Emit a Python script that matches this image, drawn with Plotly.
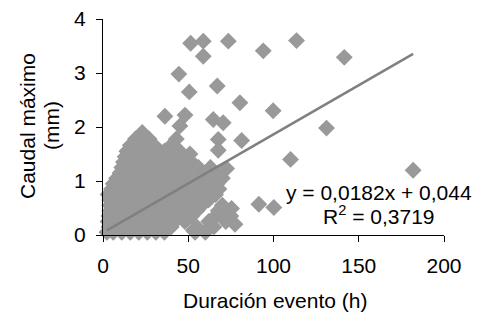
import plotly.graph_objects as go

# Data (Duración evento [h] vs Caudal máximo [mm])
duracion_h = [
    # outliers
    51.4, 58.8, 58.8, 73.5, 94.0, 113.5, 141.5, 44.5, 50.6, 67.0, 80.3, 99.8,
    36.3, 48.1, 45.1, 64.7, 70.5, 131.1, 67.6, 67.6, 81.3, 110.0, 181.9, 72.5,
    91.4, 100.2, 75.4, 77.4, 67.6, 60.8, 53.0, 51.0,
    # dense cluster
    23,
    19, 27, 43,
    16, 20, 25, 30, 40,
    14, 18, 23, 28, 33, 36, 45,
    13, 17, 22, 27, 32, 37, 42, 48,
    12, 16, 21, 26, 31, 36, 41, 46, 52,
    11, 15, 20, 25, 30, 35, 40, 45, 50, 56, 63,
    10, 14, 19, 24, 29, 34, 39, 44, 49, 54, 60, 68,
    8, 13, 18, 23, 28, 33, 38, 43, 48, 53, 58, 63, 70,
    6, 11, 16, 21, 26, 31, 36, 41, 46, 51, 56, 61, 67,
    5, 10, 15, 20, 25, 30, 35, 40, 45, 50, 55, 60, 68,
    3, 8, 13, 18, 23, 28, 33, 38, 43, 48, 53, 59, 66,
    4, 9, 14, 19, 24, 29, 34, 39, 44, 49, 54, 62,
    4, 9, 14, 19, 24, 29, 34, 39, 44, 49, 54, 58, 70,
    4, 8, 13, 18, 23, 28, 33, 38, 43, 48, 55, 72,
    3.5, 8, 13, 18, 23, 28, 33, 38, 43, 48, 52, 66, 75,
    3, 7, 12, 17, 22, 27, 32, 37, 42, 48, 62, 72,
    3.5, 8, 13, 18, 23, 28, 33, 40, 55, 65,
    2.3, 6, 11, 16, 21, 26, 31, 36, 54, 60,
]
caudal_mm = [
    3.55, 3.59, 3.31, 3.59, 3.41, 3.60, 3.29, 2.98, 2.65, 2.76, 2.45, 2.30,
    2.20, 2.22, 2.02, 2.14, 2.08, 1.98, 1.77, 1.57, 1.75, 1.40, 1.20, 1.23,
    0.57, 0.51, 0.49, 0.20, 0.45, 0.09, 0.09, 1.50,
    1.90,
    1.78, 1.78, 1.78,
    1.66, 1.66, 1.66, 1.66, 1.66,
    1.55, 1.55, 1.55, 1.55, 1.55, 1.55, 1.55,
    1.45, 1.45, 1.45, 1.45, 1.45, 1.45, 1.45, 1.45,
    1.35, 1.35, 1.35, 1.35, 1.35, 1.35, 1.35, 1.35, 1.35,
    1.25, 1.25, 1.25, 1.25, 1.25, 1.25, 1.25, 1.25, 1.25, 1.25, 1.25,
    1.15, 1.15, 1.15, 1.15, 1.15, 1.15, 1.15, 1.15, 1.15, 1.15, 1.15, 1.15,
    1.05, 1.05, 1.05, 1.05, 1.05, 1.05, 1.05, 1.05, 1.05, 1.05, 1.05, 1.05, 1.05,
    0.95, 0.95, 0.95, 0.95, 0.95, 0.95, 0.95, 0.95, 0.95, 0.95, 0.95, 0.95, 0.95,
    0.85, 0.85, 0.85, 0.85, 0.85, 0.85, 0.85, 0.85, 0.85, 0.85, 0.85, 0.85, 0.85,
    0.75, 0.75, 0.75, 0.75, 0.75, 0.75, 0.75, 0.75, 0.75, 0.75, 0.75, 0.75, 0.75,
    0.65, 0.65, 0.65, 0.65, 0.65, 0.65, 0.65, 0.65, 0.65, 0.65, 0.65, 0.65,
    0.55, 0.55, 0.55, 0.55, 0.55, 0.55, 0.55, 0.55, 0.55, 0.55, 0.55, 0.55, 0.55,
    0.45, 0.45, 0.45, 0.45, 0.45, 0.45, 0.45, 0.45, 0.45, 0.45, 0.45, 0.45,
    0.35, 0.35, 0.35, 0.35, 0.35, 0.35, 0.35, 0.35, 0.35, 0.35, 0.35, 0.35, 0.35,
    0.25, 0.25, 0.25, 0.25, 0.25, 0.25, 0.25, 0.25, 0.25, 0.25, 0.25, 0.25,
    0.15, 0.15, 0.15, 0.15, 0.15, 0.15, 0.15, 0.15, 0.15, 0.15,
    0.05, 0.05, 0.05, 0.05, 0.05, 0.05, 0.05, 0.05, 0.05, 0.05,
]
pendiente = 0.0182
intercepto = 0.044
r2 = 0.3719
x_ticks = [0, 50, 100, 150, 200]
y_ticks = [0, 1, 2, 3, 4]

FONT = "Liberation Sans, Arial, sans-serif"
W, H = 479, 320
L, R, T, B = 103, 35, 19, 85
PW, PH = W - L - R, H - T - B


def px2paper(px, py):
    return (px - L) / PW, (H - B - py) / PH


x_min, x_max = min(duracion_h), max(duracion_h)
trend_x = [x_min, x_max]
trend_y = [pendiente * v + intercepto for v in trend_x]

fig = go.Figure()
fig.add_trace(go.Scatter(
    x=duracion_h, y=caudal_mm, mode="markers",
    marker=dict(symbol="diamond", size=13, color="#999999", line=dict(width=0)),
    cliponaxis=False, showlegend=False, hoverinfo="skip"))
fig.add_trace(go.Scatter(
    x=trend_x, y=trend_y, mode="lines",
    line=dict(color="#808080", width=2.5),
    cliponaxis=False, showlegend=False, hoverinfo="skip"))

ann = []
fmt = lambda v: str(v).replace(".", ",")
x1, y1 = px2paper(473, 192)
ann.append(dict(x=x1, y=y1, xref="paper", yref="paper", xanchor="right", yanchor="middle",
                text=f"y = {fmt(pendiente)}x + {fmt(intercepto)}", showarrow=False, borderpad=0,
                font=dict(family=FONT, size=21, color="black")))
x2, y2 = px2paper(379, 215)
ann.append(dict(x=x2, y=y2, xref="paper", yref="paper", xanchor="center", yanchor="middle",
                text=f"R<sup>2</sup> = {fmt(r2)}", showarrow=False, borderpad=0,
                font=dict(family=FONT, size=21, color="black")))
x3, y3 = px2paper(27, 126)
ann.append(dict(x=x3, y=y3, xref="paper", yref="paper", xanchor="center", yanchor="middle",
                text="Caudal máximo", textangle=-90, showarrow=False,
                font=dict(family=FONT, size=21, color="black")))
x4, y4 = px2paper(51, 126)
ann.append(dict(x=x4, y=y4, xref="paper", yref="paper", xanchor="center", yanchor="middle",
                text="(mm)", textangle=-90, showarrow=False,
                font=dict(family=FONT, size=21, color="black")))
x5, y5 = px2paper(275, 300)
ann.append(dict(x=x5, y=y5, xref="paper", yref="paper", xanchor="center", yanchor="middle",
                text="Duración evento (h)", showarrow=False,
                font=dict(family=FONT, size=21, color="black")))

fig.update_layout(
    width=W, height=H, margin=dict(l=L, r=R, t=T, b=B, pad=0, autoexpand=False),
    paper_bgcolor="white", plot_bgcolor="white",
    font=dict(family=FONT, size=21, color="black"),
    annotations=ann,
    xaxis=dict(range=[0, 200], tickvals=x_ticks, ticks="outside", ticklen=6,
               tickcolor="black", showline=True, linecolor="black", linewidth=1,
               showgrid=False, zeroline=False, ticklabelstandoff=6, automargin=False,
               tickfont=dict(family=FONT, size=21, color="black")),
    yaxis=dict(range=[0, 4], tickvals=y_ticks, ticks="outside", ticklen=6,
               tickcolor="black", showline=True, linecolor="black", linewidth=1,
               showgrid=False, zeroline=False, ticklabelstandoff=6, automargin=False,
               tickfont=dict(family=FONT, size=21, color="black")),
)
fig.write_html("out.html", config={"displayModeBar": False},
               post_script="document.body.style.margin='0';document.body.style.padding='0';")
